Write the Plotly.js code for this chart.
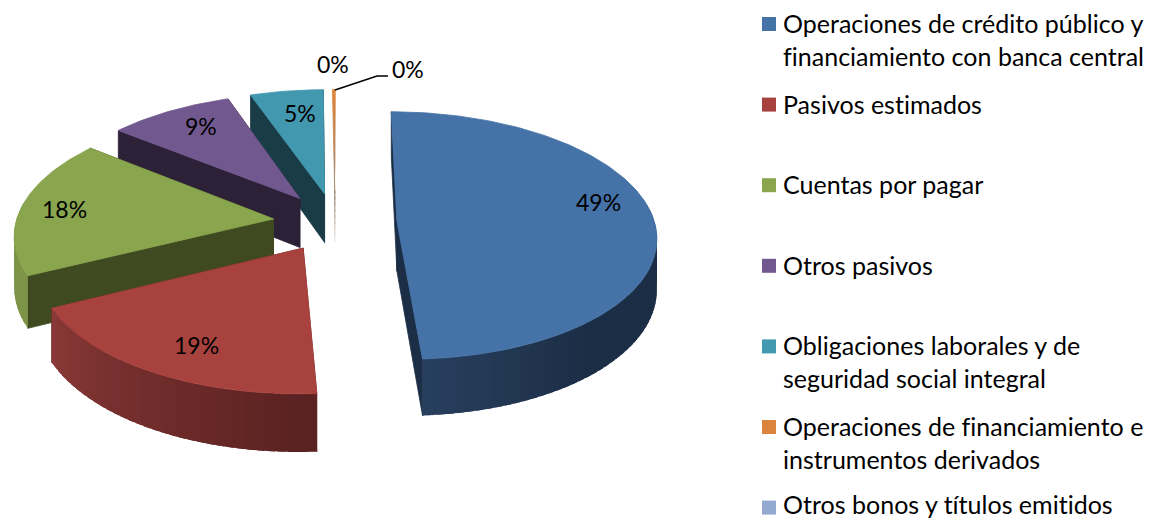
<!DOCTYPE html>
<html><head><meta charset="utf-8">
<script src="https://cdn.plot.ly/plotly-3.0.1.min.js"></script>
<style>html,body{margin:0;padding:0;background:#fff}#c{width:1154px;height:520px}text{font-variant-ligatures:none !important;letter-spacing:0.01px}</style>
</head><body><div id="c"></div>
<script>
const categories = [
  "Operaciones de crédito público y<br>financiamiento con banca central",
  "Pasivos estimados",
  "Cuentas por pagar",
  "Otros pasivos",
  "Obligaciones laborales y de<br>seguridad social integral",
  "Operaciones de financiamiento e<br>instrumentos derivados",
  "Otros bonos y títulos emitidos"
];
const values = [48.9, 18.6, 18.0, 8.9, 5.2, 0.2, 0.02];
const colors = ["#4572A7","#A8423F","#89A54E","#71588F","#4198AF","#DB843D","#93A9CF"];
const cutColors = ["#1C2E46","#5A2221","#404A20","#2C2137","#1A3C47","#B9A99A","#8A9BBB"];
const rimFrom = ["#1C2E46","#5A2221","#7D9448","#2C2137","#1A3C47","#B9A99A","#8A9BBB"];
const rimTo = ["#273E5C","#8E3B39","#7D9448","#2C2137","#1A3C47","#B9A99A","#8A9BBB"];
const labelX = [598,196,64,201,300,333];
const labelY = [202,345,209,126,113,64];
const labelShow = [0,1,2,3,4,6];

const g = {cx:335, cy:222, R:257.5, E:62, k:0.116, A:0.475, h:50, start:0.2};
const total = values.reduce((a,b)=>a+b,0);
const rad = d => d*Math.PI/180;
function proj(px,py,z){const s=1/(1-g.k*py/g.R);return [g.cx+px*s, g.cy+g.A*py*s+z*s];}
function hex(c){return [1,3,5].map(i=>parseInt(c.substr(i,2),16));}
function mix(a,b,t){t=Math.max(0,Math.min(1,t));const A=hex(a),B=hex(b);return 'rgb('+A.map((v,i)=>Math.round(v+(B[i]-v)*t)).join(',')+')';}
function poly(pts,color,name,noLine){
  return {type:'scatter',mode:'lines',x:pts.concat([pts[0]]).map(p=>p[0]),y:pts.concat([pts[0]]).map(p=>p[1]),
    fill:'toself',fillcolor:color,line:{color:color,width:noLine?0:0.8},hoverinfo:'skip',showlegend:false,name:name||''};
}
let cum=g.start;
const slices=values.map((v,i)=>{const a=cum,b=cum+v/total*360;cum=b;return {i,a,b,m:(a+b)/2};});
const traces=[];
for(let n=slices.length-1;n>=0;n--){
  const {i,a,b,m}=slices[n];
  const ax=g.E*Math.sin(rad(m)), ay=-g.E*Math.cos(rad(m));
  const rimPt=(t,z)=>proj(ax+g.R*Math.sin(rad(t)),ay-g.R*Math.cos(rad(t)),z);
  const radPt=(t,f,z)=>proj(ax+f*g.R*Math.sin(rad(t)),ay-f*g.R*Math.cos(rad(t)),z);
  const thin=(b-a)<2;
  if(thin){
    if(values[i]>=0.1){
      const N=8;
      for(let j=0;j<N;j++){
        const t0=j/N,t1=(j+1)/N;
        traces.push(poly([proj(ax,ay,g.h*t0),proj(ax,ay,g.h*t1),radPt(b,0.02,g.h*t1),radPt(b,0.02,g.h*t0)],mix("#9A8672","#F4F1EE",t0),categories[i]));
      }
      for(let j=0;j<N;j++){
        const f0=j/N,f1=(j+1)/N;
        traces.push(poly([radPt(a,f0,0),radPt(a,f1,0),radPt(b,f1,0),radPt(b,f0,0)],mix("#9A8672",colors[i],f1),categories[i]));
      }
    }
    continue;
  }
  // cut walls
  [a,b].forEach(t=>traces.push(poly([proj(ax,ay,0),rimPt(t,0),rimPt(t,g.h),proj(ax,ay,g.h)],cutColors[i])));
  // outer rim strips, each overlapping the next so no seam shows
  const step=2;
  for(let t=a;t<b;t+=step){
    const t2=Math.min(t+step,b), tm=(t+t2)/2;
    if(Math.cos(rad(tm))>0.12) continue;
    const f=i===0?(tm-140)/35:(tm-180)/70;
    traces.push(poly([rimPt(t,0),rimPt(Math.min(t2+1.5,b),0),rimPt(Math.min(t2+1.5,b),g.h),rimPt(t,g.h)],mix(rimFrom[i],rimTo[i],f),'',true));
  }
  // top surface
  const top=[proj(ax,ay,0)];
  for(let t=a;t<b;t+=1) top.push(rimPt(t,0));
  top.push(rimPt(b,0));
  traces.push(poly(top,colors[i],categories[i]));
}
// leader line for the small slice label
const leaderX=[335,377,388], leaderY=[90,76,76];
traces.push({type:'scatter',mode:'lines',x:leaderX,y:leaderY,line:{color:'#000',width:1.5},hoverinfo:'skip',showlegend:false});
// legend swatches
const legX=769, legY0=24, legGap=80.6;
traces.push({type:'scatter',mode:'markers',x:categories.map(()=>legX),y:categories.map((c,i)=>legY0+legGap*i),
  marker:{symbol:'square',size:14,color:colors},hoverinfo:'skip',showlegend:false});
const font={family:'Lato, Carlito, Calibri, sans-serif',size:23,color:'#000'};
const legFont={family:font.family,size:25,color:'#000'};
const annotations=categories.map((c,i)=>({xref:'x',yref:'y',x:782,y:legY0+legGap*i-17-(i===categories.length-1?3:0),text:c,showarrow:false,xanchor:'left',yanchor:'top',align:'left',font:legFont,borderpad:0}));
labelShow.forEach((cat,n)=>annotations.push({xref:'x',yref:'y',x:labelX[n],y:labelY[n],text:Math.round(values[cat]/total*100)+'%',showarrow:false,font}));
annotations.push({xref:'x',yref:'y',x:408,y:69,text:Math.round(values[5]/total*100)+'%',showarrow:false,font});
Plotly.newPlot('c',traces,{
  width:1154,height:520,margin:{l:0,r:0,t:0,b:0},paper_bgcolor:'#fff',plot_bgcolor:'#fff',showlegend:false,
  xaxis:{range:[0,1154],visible:false,fixedrange:true},
  yaxis:{range:[520,0],visible:false,fixedrange:true},
  annotations
},{displayModeBar:false,staticPlot:true});
</script></body></html>
